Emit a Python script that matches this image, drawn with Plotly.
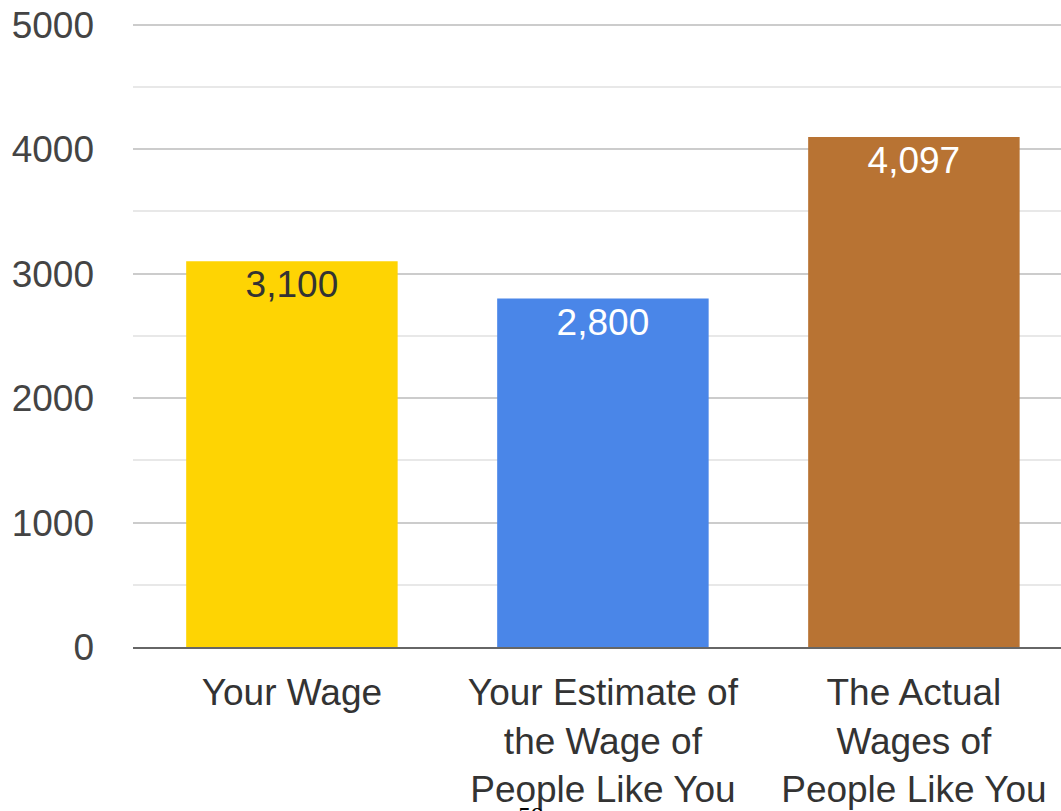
import plotly.graph_objects as go

# Monthly wage comparison
categories = [
    "Your Wage",
    "Your Estimate of<br>the Wage of<br>People Like You",
    "The Actual<br>Wages of<br>People Like You",
]
values = [3100, 2800, 4097]
bar_colors = ["#FED403", "#4A86E8", "#B87333"]
label_colors = ["#333333", "#FFFFFF", "#FFFFFF"]
y_ticks = [0, 1000, 2000, 3000, 4000, 5000]

FONT = "Liberation Sans, Arial, sans-serif"

fig = go.Figure(
    go.Bar(
        x=categories,
        y=values,
        marker=dict(color=bar_colors, line=dict(width=0)),
        text=[f"{v:,}" for v in values],
        textposition="inside",
        insidetextanchor="end",
        textangle=0,
        textfont=dict(family=FONT, size=37, color=label_colors),
        cliponaxis=False,
    )
)

fig.update_layout(
    width=1061,
    height=811,
    margin=dict(l=133, r=0, t=21, b=164),
    paper_bgcolor="white",
    plot_bgcolor="white",
    bargap=0.32,
    showlegend=False,
    font=dict(family=FONT, color="#444444"),
    xaxis=dict(
        range=[-0.511, 2.473],
        showgrid=False,
        showline=True,
        linecolor="#666666",
        linewidth=2,
        ticks="",
        tickfont=dict(family=FONT, size=37, color="#333333"),
        ticklabelstandoff=12,
        fixedrange=True,
    ),
    yaxis=dict(
        range=[0, 5030],
        tickvals=y_ticks,
        ticktext=[str(t) for t in y_ticks],
        showgrid=True,
        gridcolor="#CCCCCC",
        gridwidth=1.5,
        zeroline=False,
        showline=False,
        ticks="",
        tickfont=dict(family=FONT, size=37, color="#444444"),
        ticklabelstandoff=38,
        minor=dict(dtick=500, showgrid=True, gridcolor="#E8E8E8", gridwidth=1.5),
    ),
    annotations=[
        dict(
            text="59",
            xref="paper",
            yref="paper",
            x=0.429,
            y=-0.244,
            xanchor="center",
            yanchor="top",
            showarrow=False,
            font=dict(family="Liberation Serif, Times New Roman, serif", size=26, color="#000000"),
        )
    ],
)

fig.write_html("out.html")
